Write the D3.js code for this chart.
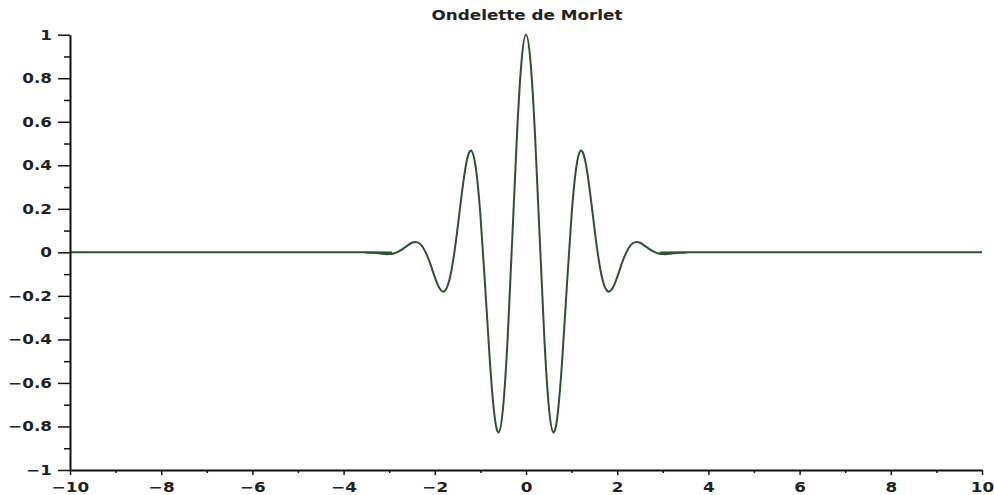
<!doctype html>
<html>
<head>
<meta charset="utf-8">
<script src="https://d3js.org/d3.v7.min.js"></script>
<style>
  body { margin: 0; background: #fff; }
  text { font-family: "DejaVu Sans", sans-serif; font-weight: bold; fill: #222; }
</style>
</head>
<body>
<svg width="994" height="495"></svg>
<script>
    // values
    var xValues = [-10, -3.5, -3.4, -3.3, -3.2, -3.1, -3.0, -2.9, -2.8, -2.7, -2.6, -2.5, -2.4, -2.3, -2.2, -2.1,
        -2.0, -1.9, -1.8, -1.7, -1.6, -1.5, -1.4, -1.3, -1.2, -1.1, -1.0, -0.9, -0.8, -0.7, -0.6, -0.5,
        -0.4, -0.3, -0.2, -0.1, 0, 0.1, 0.2, 0.3, 0.4, 0.5, 0.6, 0.7, 0.8, 0.9, 1.0, 1.1, 1.2, 1.3,
        1.4, 1.5, 1.6, 1.7, 1.8, 1.9, 2.0, 2.1, 2.2, 2.3, 2.4, 2.5, 2.6, 2.7, 2.8, 2.9, 3.0, 3.1,
        3.2, 3.3, 3.4, 3.5, 10];
    var yValues = [0, 0.000, -0.001, -0.003, -0.006, -0.008, -0.008, -0.005, 0.003, 0.016, 0.031, 0.044, 0.047, 0.034, 0.000, -0.052,
        -0.114, -0.164, -0.180, -0.142, -0.041, 0.113, 0.283, 0.420, 0.467, 0.387, 0.172, -0.141, -0.475, -0.733, -0.827, -0.707,
        -0.384, 0.068, 0.530, 0.873, 1, 0.873, 0.530, 0.068, -0.384, -0.707, -0.827, -0.733, -0.475, -0.141, 0.172, 0.387, 0.467, 0.420,
        0.283, 0.113, -0.041, -0.142, -0.180, -0.164, -0.114, -0.052, 0.000, 0.034, 0.047, 0.044, 0.031, 0.016, 0.003, -0.005, -0.008, -0.008,
        -0.006, -0.003, -0.001, 0.000, 0];

    var xTicks = [-10, -8, -6, -4, -2, 0, 2, 4, 6, 8, 10];
    var xMinor = [-9, -7, -5, -3, -1, 1, 3, 5, 7, 9];
    var yTicks = [-1, -0.8, -0.6, -0.4, -0.2, 0, 0.2, 0.4, 0.6, 0.8, 1];
    var yMinor = [-0.9, -0.7, -0.5, -0.3, -0.1, 0.1, 0.3, 0.5, 0.7, 0.9];
    var title = "Ondelette de Morlet";

    var svg = d3.select("svg");
    var stretch = 1.2; // the picture is a bit wide

    var xScale = d3.scaleLinear().domain([-10, 10]).range([70, 982]),
        yScale = d3.scaleLinear().domain([-1, 1]).range([470, 34.7]);

    // title
    svg.append("text")
        .attr("transform", "translate(527,20) scale(" + stretch + ",1)")
        .attr("text-anchor", "middle")
        .style("font-size", "14px")
        .text(title);

    // curve
    var line = d3.line()
        .x(function(d, i) { return xScale(xValues[i]); })
        .y(function(d) { return yScale(d); })
        .curve(d3.curveNatural);

    svg.append("path")
        .datum(yValues)
        .attr("d", line)
        .style("fill", "none")
        .style("stroke", "#2d532d")
        .style("stroke-width", 2);

    var fmt = function(d) { return String(d).replace("-", "\u2212"); };

    // minor ticks first, then the axes on top
    svg.append("g")
        .attr("transform", "translate(0,470)")
        .call(d3.axisBottom(xScale).tickValues(xMinor).tickSize(3).tickSizeOuter(0).tickFormat(""))
        .call(function(g) { g.select(".domain").remove(); });

    svg.append("g")
        .attr("transform", "translate(70,0)")
        .call(d3.axisLeft(yScale).tickValues(yMinor).tickSize(6).tickSizeOuter(0).tickFormat(""))
        .call(function(g) { g.select(".domain").remove(); });

    var xAxis = svg.append("g")
        .attr("transform", "translate(0,470)")
        .call(d3.axisBottom(xScale).tickValues(xTicks).tickSize(5).tickPadding(7).tickSizeOuter(0).tickFormat(fmt));
    xAxis.selectAll("text")
        .attr("transform", "scale(" + stretch + ",1)")
        .style("font-size", "14px");

    var yAxis = svg.append("g")
        .attr("transform", "translate(70,0)")
        .call(d3.axisLeft(yScale).tickValues(yTicks).tickSize(12).tickSizeOuter(0).tickFormat(fmt));
    yAxis.selectAll("text")
        .attr("x", -18 / stretch)
        .attr("transform", "scale(" + stretch + ",1)")
        .style("font-size", "14px");

    svg.selectAll(".domain").style("stroke", "#111").style("stroke-width", 2);
    svg.selectAll(".tick line").style("stroke", "#111").style("stroke-width", 1.5);
</script>
</body>
</html>
